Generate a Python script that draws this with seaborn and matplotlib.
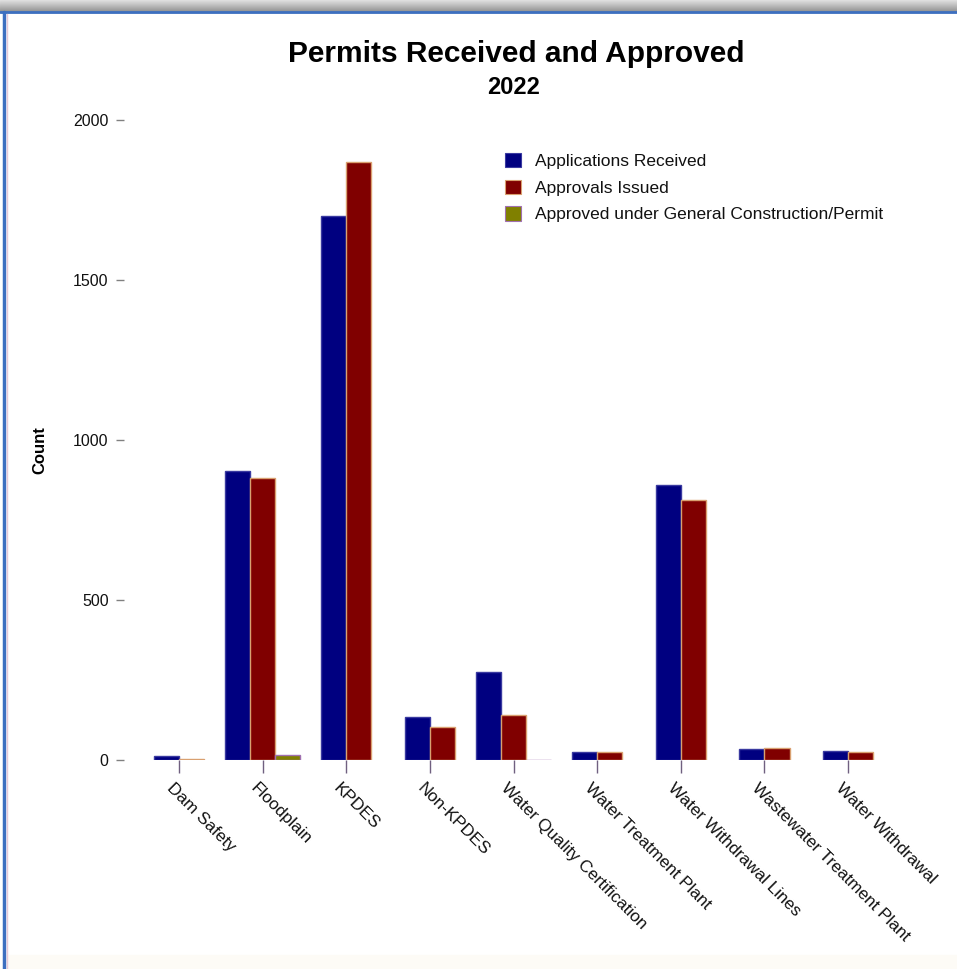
import numpy as np
import pandas as pd
import matplotlib
matplotlib.use("Agg")
import matplotlib.pyplot as plt
import matplotlib.transforms as mtransforms
import seaborn as sns
from matplotlib.patches import Rectangle, Patch

# Permit categories and yearly counts (NaN = series not reported for that category)
categories = [
    "Dam Safety", "Floodplain", "KPDES", "Non-KPDES",
    "Water Quality Certification", "Water Treatment Plant",
    "Water Withdrawal Lines", "Wastewater Treatment Plant", "Water Withdrawal",
]
applications_received = [13, 903, 1700, 134, 276, 25, 860, 34, 28]
approvals_issued = [3, 880, 1870, 103, 140, 25, 812, 36, 25]
approved_general = [np.nan, 16, np.nan, np.nan, 1, np.nan, np.nan, np.nan, np.nan]

series_names = [
    "Applications Received",
    "Approvals Issued",
    "Approved under General Construction/Permit",
]
series_colors = ["#000080", "#800000", "#808000"]
edge_colors = ["#3a3aa0", "#d9a070", "#a070b0"]

df = pd.DataFrame({
    "Category": categories * 3,
    "Series": np.repeat(series_names, len(categories)),
    "Count": applications_received + approvals_issued + approved_general,
})

sns.set_theme(style="white")
plt.rcParams["font.family"] = ["Liberation Sans", "DejaVu Sans"]
plt.rcParams["text.color"] = "#000000"

fig = plt.figure(figsize=(9.57, 9.69), dpi=100)
fig.patch.set_facecolor("white")

# window-style frame: grey shadow strip on top, blue border lines
for i in range(12):
    g = 0.88 - 0.3 * i / 11
    fig.patches.append(Rectangle((0, 1 - (i + 1) / 969), 1, 1 / 969 + 0.0005,
                                 transform=fig.transFigure, color=(g, g, g),
                                 zorder=0))
fig.add_artist(plt.Line2D([0, 1], [1 - 12 / 969] * 2, transform=fig.transFigure,
                          color="#3d6fc0", lw=2))
fig.add_artist(plt.Line2D([4 / 957] * 2, [0, 1 - 12 / 969], transform=fig.transFigure,
                          color="#3d6fc0", lw=2.5))
fig.add_artist(plt.Line2D([7 / 957] * 2, [0, 1 - 14 / 969], transform=fig.transFigure,
                          color="#e8c8d8", lw=1))
fig.patches.append(Rectangle((6 / 957, 0), 1, 14 / 969, transform=fig.transFigure,
                             color="#fdfbf6", zorder=0))

ax = fig.add_axes([124 / 957, 209 / 969, 816 / 957, 640 / 969])
sns.barplot(data=df, x="Category", y="Count", hue="Series",
            hue_order=series_names, palette=series_colors, saturation=1,
            width=0.9, ax=ax, legend=False, errorbar=None, linewidth=1)

# edge colours per series; groups without the third series are centred on the tick
for k, (container, ec) in enumerate(zip(ax.containers, edge_colors)):
    for bar in container:
        bar.set_edgecolor(ec)
        idx = int(round(bar.get_x() + bar.get_width() / 2))
        if k < 2 and np.isnan(approved_general[idx]):
            bar.set_x(bar.get_x() + bar.get_width() / 2)

ax.set_ylim(0, 2000)
ax.set_xlim(-0.66, 9.1)
ax.set_yticks([0, 500, 1000, 1500, 2000])
for s in ax.spines.values():
    s.set_visible(False)
ax.tick_params(axis="y", left=True, length=6, width=1, color="#808080",
               labelsize=11.5, pad=5, labelcolor="#111111")
ax.tick_params(axis="x", bottom=True, length=9, width=1, color="#706080",
               labelsize=12.3, pad=6, labelcolor="#111111")
ax.set_xticks(range(len(categories)))
ax.set_xticklabels(categories, rotation=-45, ha="left", va="top",
                   rotation_mode="anchor")
shift = mtransforms.ScaledTranslation(-5 / 100, 0, fig.dpi_scale_trans)
for lbl in ax.get_xticklabels():
    lbl.set_transform(lbl.get_transform() + shift)
ax.set_xlabel("")
ax.set_ylabel("Count", fontsize=12, fontweight="bold", color="#000000")
ax.yaxis.set_label_coords(-0.094, 0.484)

fig.text(516 / 957, 1 - 54 / 969, "Permits Received and Approved",
         ha="center", va="center", fontsize=21.5, fontweight="bold",
         color="#000000")
fig.text(514 / 957, 1 - 88 / 969, "2022",
         ha="center", va="center", fontsize=17, fontweight="bold",
         color="#000000")

handles = [Patch(facecolor=c, edgecolor=e, linewidth=0.8)
           for c, e in zip(series_colors, edge_colors)]
leg = fig.legend(handles, series_names, loc="upper left",
                 bbox_to_anchor=(498 / 957, 1 - 146 / 969), frameon=False,
                 fontsize=12.5, handlelength=0.9, handleheight=0.9,
                 handletextpad=0.85, labelspacing=0.6, borderaxespad=0)
for t in leg.get_texts():
    t.set_color("#111111")

fig.savefig("out.png", dpi=100)
